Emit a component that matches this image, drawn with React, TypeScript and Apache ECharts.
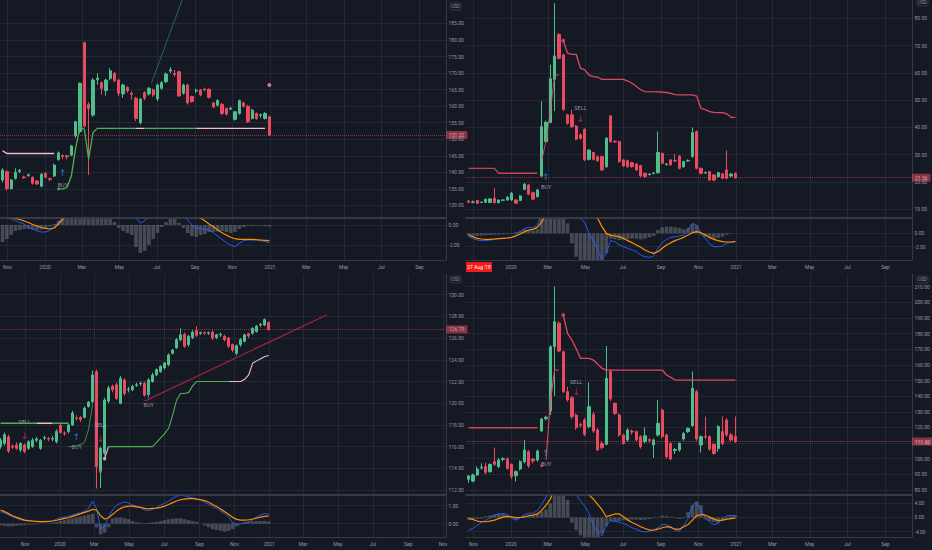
import React, { useEffect, useRef } from 'react';
import * as echarts from 'echarts';

const DAY = 86400000;
const toT = (s: string) => Date.parse(s + 'T00:00:00Z');
const weekly = (start: string, n: number) => {
  const t0 = toT(start);
  const out: number[] = [];
  for (let i = 0; i < n; i++) out.push(t0 + i * 7 * DAY);
  return out;
};

const MONTHS = ['Jan', 'Feb', 'Mar', 'Apr', 'May', 'Jun', 'Jul', 'Aug', 'Sep', 'Oct', 'Nov', 'Dec'];
const MONTH_TICKS = ['2019-11-01', '2020-01-01', '2020-03-01', '2020-05-01', '2020-07-01', '2020-09-01', '2020-11-01',
  '2021-01-01', '2021-03-01', '2021-05-01', '2021-07-01', '2021-09-01', '2021-11-01'].map(toT);
// top-right: the first "Nov" label is hidden under the red date box in the reference
const TR_MONTH_LABELS = MONTH_TICKS.slice(1);

// ---------------- TOP LEFT ----------------
const TL_DATES = weekly('2019-10-24', 63);
const TL_OPEN = [137.7, 140.2, 135.1, 138.2, 140.3, 138.6, 139.0, 138.5, 137.4, 135.8,
  139.7, 138.1, 138.9, 143.9, 145.1, 145.0, 145.2, 151.0, 152.3, 179.2,
  160.6, 157.3, 168.0, 167.1, 164.7, 168.4, 169.9, 167.9, 163.7, 165.7,
  163.9, 162.4, 155.0, 164.1, 163.7, 164.9, 162.2, 165.4, 167.4, 170.6,
  169.9, 170.4, 163.9, 166.4, 162.9, 164.6, 164.9, 165.2, 165.1, 161.0,
  160.3, 160.6, 159.3, 159.1, 156.0, 157.8, 161.0, 160.0, 156.3, 157.8,
  157.2, 156.3, 156.8];
const TL_CLOSE = [140.7, 135.1, 137.7, 140.0, 140.6, 138.4, 139.3, 136.7, 136.5, 139.4,
  138.5, 137.9, 142.2, 145.9, 144.8, 144.7, 148.0, 155.3, 166.9, 154.0,
  159.3, 167.9, 168.5, 165.4, 167.9, 170.7, 167.7, 163.9, 166.4, 164.7,
  163.6, 156.3, 162.1, 162.4, 165.4, 163.4, 166.4, 167.1, 169.7, 171.0,
  169.6, 163.1, 166.4, 161.0, 161.4, 164.8, 163.4, 165.0, 162.7, 159.8,
  161.7, 157.8, 157.6, 159.4, 158.3, 161.7, 160.0, 155.3, 158.8, 156.3,
  157.4, 157.8, 151.32];
const TL_LOW = [137.0, 134.6, 134.8, 137.8, 139.8, 138.0, 138.7, 136.3, 136.2, 135.5,
  138.2, 137.3, 138.6, 143.5, 144.0, 143.9, 144.9, 150.5, 151.8, 153.5,
  139.2, 156.8, 166.5, 163.5, 163.2, 167.8, 167.2, 163.0, 162.5, 164.0,
  162.0, 155.5, 154.5, 161.8, 163.2, 162.8, 161.5, 165.0, 167.0, 170.0,
  169.0, 162.8, 163.5, 160.5, 161.0, 164.0, 163.0, 164.5, 162.3, 159.4,
  159.9, 157.3, 157.2, 158.8, 155.6, 157.4, 159.6, 154.9, 156.0, 155.9,
  156.5, 156.0, 151.0];
const TL_HIGH = [141.2, 140.6, 138.0, 141.2, 141.0, 139.0, 139.6, 138.8, 137.5, 139.8,
  140.0, 138.4, 142.6, 146.3, 145.4, 145.3, 148.3, 155.6, 167.2, 179.5,
  161.2, 168.5, 170.0, 167.5, 168.3, 171.5, 170.3, 168.2, 166.8, 166.0,
  164.5, 162.8, 162.5, 164.5, 165.8, 165.3, 166.8, 167.6, 170.2, 171.8,
  171.0, 170.8, 166.8, 166.8, 163.2, 165.3, 165.2, 165.6, 165.4, 161.3,
  162.1, 160.9, 159.6, 159.7, 158.6, 162.0, 161.3, 160.4, 159.2, 158.1,
  157.8, 158.2, 157.1];
const TL_MACD = [1.0, 0.8, 0.6, 0.43, 0.25, 0.08, -0.2, -0.4, -0.6, -0.7,
  -0.7, -0.55, -0.17, 0.3, 0.8, 1.3, 2.0, 3.0, 4.5, 5.0,
  4.8, 4.9, 5.0, 4.8, 4.7, 4.6, 4.3, 3.8, 3.4, 3.0,
  2.5, 0.7, 0.2, 0.4, 0.9, 1.2, 1.6, 2.0, 2.4, 2.7,
  2.8, 2.4, 1.0, 0.5, 0.0, -0.27, -0.33, -0.43, -0.5, -0.77,
  -1.1, -1.43, -1.77, -2.0, -2.17, -1.83, -1.57, -1.5, -1.5, -1.5,
  -1.57, -1.67, -1.77];
const TL_SIGNAL = [1.2, 1.0, 0.8, 0.65, 0.55, 0.4, 0.25, 0.05, -0.1, -0.25,
  -0.33, -0.4, -0.3, 0.1, 0.6, 0.9, 1.2, 1.6, 2.1, 2.7,
  3.1, 3.5, 3.8, 4.0, 4.1, 4.2, 4.2, 4.1, 4.0, 3.8,
  3.5, 3.1, 2.7, 2.4, 2.1, 1.9, 1.8, 1.8, 1.9, 2.0,
  2.1, 2.2, 2.1, 1.7, 1.4, 1.05, 0.67, 0.43, 0.1, -0.17,
  -0.5, -0.77, -1.0, -1.23, -1.37, -1.43, -1.43, -1.43, -1.43, -1.47,
  -1.5, -1.53, -1.57];
const TL_HIST = [-1.7, -1.4, -1.0, -0.6, -0.5, -0.4, -0.4, -0.45, -0.5, -0.45,
  -0.35, -0.15, 0.1, 0.4, 0.8, 1.0, 1.2, 1.4, 1.5, 1.5,
  1.4, 1.3, 1.2, 1.0, 0.8, 0.6, 0.3, -0.3, -0.6, -0.8,
  -1.0, -2.2, -2.8, -2.6, -2.0, -1.4, -0.8, -0.2, 0.3, 0.6,
  0.6, 0.2, -0.3, -0.8, -1.1, -1.2, -1.0, -0.9, -0.7, -0.7,
  -0.65, -0.6, -0.7, -0.8, -0.7, -0.4, -0.2, -0.1, -0.1, -0.05,
  -0.05, -0.1, -0.15];
const TL_STOP_PTS = [[13, 135.0], [14, 135.0], [15, 135.5], [16, 139.0], [17, 147.5], [18, 153.8], [19, 153.0],
  [20, 144.0], [21, 152.0], [22, 153.3], [31, 153.3], [33, 153.3], [45, 153.3], [61, 153.3]];
const TL_PREV_PTS = [[0, 146.5], [1, 145.7], [12, 145.7]];
const TL_TREND = [['2020-06-22', 166.9], ['2020-08-20', 196.6]];

// ---------------- TOP RIGHT ----------------
const TR_DATES = weekly('2019-10-24', 63);
const TR_OPEN = [13.0, 12.6, 13.2, 12.5, 12.6, 12.5, 14.0, 12.4, 13.3, 13.4,
  13.4, 13.4, 13.2, 17.3, 18.9, 16.1, 14.6, 22.2, 34.8, 41.8,
  57.6, 74.1, 66.6, 44.6, 44.6, 40.5, 37.3, 39.3, 28.3, 30.8,
  29.3, 29.3, 25.6, 44.2, 34.9, 34.8, 28.1, 27.8, 27.1, 26.6,
  26.0, 23.2, 22.7, 23.1, 23.4, 30.5, 26.4, 28.1, 27.9, 29.5,
  25.6, 27.7, 29.3, 38.5, 25.0, 23.3, 23.8, 22.6, 22.0, 23.0,
  24.4, 22.2, 23.2];
const TR_CLOSE = [12.6, 12.7, 12.2, 12.6, 13.7, 13.8, 12.4, 13.4, 13.4, 14.4,
  15.9, 12.2, 14.9, 19.2, 15.5, 13.7, 17.1, 40.3, 41.9, 57.8,
  66.2, 65.3, 46.6, 41.5, 40.3, 35.7, 36.0, 28.1, 31.7, 28.3,
  27.8, 24.4, 36.0, 34.8, 34.7, 27.5, 25.9, 25.6, 25.6, 24.4,
  22.2, 22.0, 22.9, 23.3, 30.8, 26.9, 26.6, 26.3, 27.7, 25.0,
  27.5, 27.9, 38.1, 25.0, 23.2, 23.5, 20.7, 20.7, 23.4, 21.4,
  21.4, 22.9, 21.56];
const TR_LOW = [12.2, 12.2, 12.0, 12.3, 12.4, 12.3, 12.2, 12.2, 13.0, 13.1,
  13.1, 12.0, 13.0, 17.0, 15.2, 13.4, 14.3, 21.8, 34.5, 41.5,
  46.0, 65.0, 46.0, 41.0, 39.8, 35.3, 35.5, 27.7, 27.9, 27.9,
  27.4, 24.0, 25.2, 34.4, 34.3, 27.1, 25.5, 25.2, 25.2, 24.0,
  21.8, 21.6, 22.4, 22.8, 23.0, 26.5, 26.0, 25.9, 27.3, 24.6,
  25.2, 27.3, 28.9, 24.6, 22.8, 23.0, 20.3, 20.3, 21.6, 21.0,
  21.0, 21.8, 21.2];
const TR_HIGH = [13.4, 13.2, 13.4, 12.9, 13.9, 14.1, 17.7, 13.6, 13.7, 14.8,
  16.3, 13.7, 15.2, 19.6, 19.3, 16.5, 17.5, 49.5, 42.5, 63.0,
  85.5, 74.5, 67.0, 45.0, 46.5, 40.9, 37.8, 39.7, 32.0, 31.1,
  29.7, 29.6, 36.5, 44.6, 35.2, 35.1, 28.4, 28.1, 27.4, 26.9,
  26.3, 23.5, 23.2, 23.6, 38.5, 30.8, 26.9, 28.4, 30.3, 29.8,
  27.8, 28.3, 40.0, 38.9, 25.3, 23.8, 24.1, 22.9, 23.7, 23.3,
  31.5, 23.2, 23.5];
const TR_MACD = [-0.5, -0.75, -1.0, -1.1, -1.1, -1.0, -0.9, -0.8, -0.75, -0.7,
  -0.6, -0.25, 0.25, 0.75, 0.9, 0.8, 1.25, 3.0, 5.0, 8.0,
  11.0, 13.0, 12.0, 10.0, 8.0, 6.0, 2.25, 1.6, 0.0, -1.1,
  -2.5, -3.9, -3.0, -1.1, -1.25, -1.75, -2.0, -2.25, -2.5, -2.75,
  -3.25, -3.5, -3.6, -3.4, -2.25, -1.4, -0.9, -0.6, -0.5, -0.4,
  -0.25, 0.5, 1.5, 1.25, 0.0, -0.75, -1.6, -2.0, -2.0, -1.9,
  -1.5, -1.35, -1.25];
const TR_SIGNAL = [-0.25, -0.5, -0.75, -0.85, -0.9, -0.9, -0.85, -0.8, -0.75, -0.7,
  -0.6, -0.4, -0.1, 0.25, 0.5, 0.6, 0.9, 1.75, 2.8, 4.5,
  6.5, 8.5, 9.5, 9.8, 9.5, 8.8, 7.5, 6.0, 4.5, 3.0,
  2.25, 1.0, 0.0, -0.3, -0.4, -0.5, -0.75, -1.1, -1.4, -1.75,
  -2.1, -2.5, -2.8, -3.0, -2.75, -2.25, -1.75, -1.4, -1.1, -0.85,
  -0.6, -0.25, 0.1, 0.25, 0.1, -0.25, -0.6, -0.9, -1.1, -1.25,
  -1.3, -1.3, -1.25];
const TR_HIST = [-0.3, -0.35, -0.4, -0.35, -0.3, -0.25, -0.2, -0.2, -0.15, -0.1,
  -0.1, 0.2, 0.4, 0.6, 0.5, 0.4, 0.6, 2.5, 3.5, 4.5,
  5.0, 5.0, 3.5, 1.5, -1.5, -3.5, -4.5, -5.0, -5.0, -5.0,
  -5.0, -4.5, -3.0, -0.8, -0.9, -1.0, -1.0, -0.9, -0.8, -0.8,
  -0.9, -0.8, -0.6, -0.4, 0.5, 0.9, 1.0, 1.0, 0.9, 0.8,
  0.6, 0.8, 1.4, 1.2, -0.2, -0.5, -0.8, -0.8, -0.7, -0.5,
  -0.2, -0.05, 0.0];
const TR_STOP_A = [[0, 25.0], [6, 25.0], [7, 23.2], [16, 23.2]];
const TR_STOP_B = [[17, 28.0], [18, 35.0], [19, 46.0], [20, 59.2], [21, 59.2]];
const TR_STOP_C = [[22, 71.8], [23, 67.2], [24, 66.8], [25, 66.8], [26, 61.7], [27, 61.1], [28, 59.2], [29, 58.6],
  [30, 58.4], [31, 57.6], [36, 57.6], [37, 57.0], [38, 56.2], [39, 55.0], [40, 53.8], [41, 53.1], [44, 53.0],
  [46, 52.8], [47, 52.5], [48, 52.0], [49, 51.9], [52, 51.9], [53, 51.5], [54, 47.0], [55, 46.5], [56, 45.8],
  [57, 45.5], [58, 45.4], [59, 45.4], [60, 45.0], [61, 43.7], [62, 43.7]];

// ---------------- BOTTOM LEFT ----------------
const BL_DATES = weekly('2019-09-19', 68);
const BL_OPEN = [116.0, 116.3, 116.9, 116.05, 116.15, 115.7, 116.15, 115.85, 116.0, 116.6,
  115.85, 116.8, 116.75, 116.7, 116.45, 117.95, 117.25, 117.4, 118.0, 118.65,
  118.7, 118.7, 119.7, 120.15, 122.9, 113.7, 115.4, 120.2, 121.55, 121.7,
  120.0, 122.15, 121.25, 121.25, 121.65, 121.8, 121.85, 120.8, 122.0, 122.6,
  122.9, 123.25, 123.55, 124.6, 125.1, 125.85, 126.35, 125.4, 126.05, 126.7,
  126.45, 126.5, 126.45, 126.55, 126.05, 126.3, 126.15, 126.0, 125.4, 124.6,
  125.4, 125.7, 126.4, 126.45, 126.6, 127.2, 127.2, 127.45];
const BL_CLOSE = [116.6, 117.1, 115.6, 115.95, 115.85, 116.3, 115.55, 116.45, 116.6, 116.7,
  116.6, 116.85, 116.7, 116.75, 117.4, 117.3, 117.2, 118.0, 119.1, 118.6,
  118.5, 119.55, 120.1, 122.6, 114.15, 115.85, 120.3, 121.4, 121.25, 120.45,
  122.3, 120.9, 121.3, 121.55, 121.7, 121.85, 120.75, 122.15, 122.6, 123.1,
  123.4, 123.7, 124.45, 124.9, 125.85, 126.3, 125.25, 126.15, 126.55, 126.25,
  126.5, 126.45, 126.5, 126.0, 126.3, 126.35, 125.85, 125.25, 124.9, 125.3,
  125.85, 126.3, 126.2, 126.9, 127.1, 127.25, 127.7, 126.79];
const BL_LOW = [115.8, 116.1, 115.4, 115.8, 115.7, 115.5, 115.4, 115.7, 115.9, 116.4,
  115.7, 116.6, 116.5, 116.5, 116.3, 117.2, 117.0, 117.2, 117.9, 118.4,
  118.3, 118.6, 119.6, 120.0, 112.15, 112.2, 115.2, 120.0, 121.0, 120.3,
  119.9, 120.7, 121.0, 121.1, 121.5, 121.6, 120.6, 120.6, 121.9, 122.5,
  122.8, 123.1, 123.4, 124.5, 125.0, 125.7, 125.1, 125.2, 125.9, 126.1,
  126.3, 126.3, 126.3, 125.8, 125.9, 126.1, 125.7, 125.1, 124.7, 124.4,
  125.2, 125.6, 126.0, 126.3, 126.5, 127.0, 127.1, 126.7];
const BL_HIGH = [116.8, 117.3, 117.1, 116.2, 116.4, 116.4, 116.3, 116.6, 116.8, 116.9,
  116.7, 117.0, 116.9, 117.0, 117.6, 118.1, 117.4, 118.1, 119.3, 118.9,
  118.8, 119.7, 120.2, 123.0, 123.1, 116.0, 120.5, 121.6, 121.7, 121.9,
  122.5, 122.3, 121.5, 121.7, 121.9, 122.0, 122.0, 122.3, 122.8, 123.2,
  123.5, 123.8, 124.6, 125.0, 126.0, 126.9, 126.5, 126.3, 126.7, 127.1,
  126.6, 126.6, 126.6, 126.7, 126.4, 126.5, 126.3, 126.1, 125.5, 125.4,
  126.0, 126.4, 126.5, 127.0, 127.2, 127.4, 127.8, 127.5];
const BL_MACD = [0.67, 0.6, 0.48, 0.39, 0.3, 0.22, 0.17, 0.15, 0.13, 0.11,
  0.11, 0.11, 0.11, 0.15, 0.26, 0.33, 0.37, 0.41, 0.48, 0.56,
  0.59, 0.7, 0.85, 1.26, 0.85, -0.3, -0.17, 0.39, 0.76, 1.04,
  1.13, 1.22, 1.15, 1.04, 0.98, 0.89, 0.76, 0.74, 0.8, 0.89,
  1.04, 1.13, 1.26, 1.41, 1.52, 1.59, 1.56, 1.48, 1.44, 1.37,
  1.3, 1.19, 1.07, 0.96, 0.85, 0.7, 0.56, 0.39, 0.04, -0.04,
  0.0, 0.04, 0.11, 0.22, 0.37, 0.48, 0.56, 0.54];
const BL_SIGNAL = [0.76, 0.67, 0.56, 0.44, 0.35, 0.28, 0.2, 0.17, 0.15, 0.13,
  0.11, 0.11, 0.13, 0.15, 0.19, 0.24, 0.3, 0.33, 0.41, 0.48,
  0.56, 0.63, 0.7, 0.8, 0.76, 0.44, 0.26, 0.33, 0.52, 0.7,
  0.85, 0.94, 0.98, 0.98, 0.94, 0.91, 0.85, 0.83, 0.85, 0.87,
  0.91, 0.98, 1.07, 1.17, 1.26, 1.33, 1.37, 1.39, 1.39, 1.37,
  1.33, 1.28, 1.19, 1.07, 0.96, 0.81, 0.67, 0.52, 0.35, 0.24,
  0.2, 0.2, 0.22, 0.26, 0.31, 0.37, 0.41, 0.43];
const BL_HIST = [-0.1, -0.12, -0.15, -0.15, -0.12, -0.1, -0.08, -0.06, -0.05, -0.03,
  0.0, 0.0, 0.02, 0.05, 0.1, 0.15, 0.2, 0.25, 0.3, 0.35,
  0.4, 0.45, 0.5, 0.55, -0.2, -0.6, -0.5, -0.2, 0.3, 0.35,
  0.35, 0.3, 0.25, 0.15, 0.08, 0.05, 0.03, 0.05, 0.08, 0.1,
  0.15, 0.2, 0.25, 0.28, 0.3, 0.3, 0.25, 0.2, 0.15, 0.1,
  0.0, -0.1, -0.2, -0.3, -0.35, -0.4, -0.45, -0.4, -0.3, -0.15,
  0.0, 0.05, 0.1, 0.12, 0.15, 0.15, 0.15, 0.12];
const BL_SUPPORT_PTS = [[0, 118.15], [9, 118.15], [13, 118.15], [17, 118.15]];
const BL_RISE_PTS = [[17, 116.0], [18, 116.0], [19, 116.1], [20, 116.2], [21, 116.4], [22, 117.6], [23, 119.9]];
const BL_STOP_PTS = [[26, 114.9], [27, 116.0], [38, 116.0], [39, 116.4], [40, 116.8], [41, 117.2], [42, 117.7],
  [43, 118.9], [44, 120.3], [45, 120.9], [46, 120.9], [47, 121.0], [48, 121.6], [49, 122.0], [57, 122.0],
  [60, 122.0], [61, 122.2], [62, 122.6], [63, 123.7], [64, 123.9], [65, 124.1], [66, 124.3], [67, 124.4]];
const BL_TREND = [['2020-05-28', 120.2], ['2021-04-12', 128.15]];

// ---------------- BOTTOM RIGHT ----------------
const BR_DATES = weekly('2019-10-24', 63);
const BR_OPEN = [86.9, 85.7, 89.6, 94.1, 94.9, 91.7, 98.1, 94.9, 99.6, 99.8,
  96.4, 89.2, 93.4, 98.1, 104.5, 99.8, 99.2, 117.7, 125.6, 130.5,
  171.6, 186.6, 168.4, 142.9, 139.0, 127.9, 121.8, 124.7, 120.5, 128.4,
  118.4, 109.8, 109.2, 155.7, 135.4, 127.9, 115.2, 112.0, 117.6, 117.3,
  114.1, 110.9, 112.2, 108.8, 115.2, 131.1, 115.2, 109.8, 105.3, 105.6,
  112.6, 117.3, 121.1, 142.9, 108.8, 114.3, 114.1, 109.2, 106.6, 117.3,
  124.7, 115.2, 114.1];
const BR_CLOSE = [89.0, 89.6, 93.4, 94.5, 91.3, 96.4, 96.4, 99.2, 100.0, 93.8,
  88.5, 91.7, 98.1, 105.6, 95.5, 98.5, 104.9, 125.4, 126.5, 171.6,
  187.6, 168.9, 142.9, 137.5, 126.9, 119.8, 121.4, 115.6, 133.3, 117.7,
  105.6, 107.1, 151.4, 138.2, 129.0, 115.2, 109.8, 118.4, 117.1, 112.0,
  107.7, 114.7, 111.8, 112.0, 122.6, 114.1, 101.3, 99.8, 105.9, 109.8,
  116.2, 119.4, 145.0, 112.6, 114.1, 113.9, 106.2, 103.4, 120.5, 109.8,
  115.2, 112.0, 111.0];
const BR_LOW = [84.5, 85.0, 89.0, 93.0, 90.0, 91.0, 95.5, 94.0, 98.5, 93.0,
  87.0, 85.5, 92.5, 97.0, 94.0, 97.0, 98.0, 117.0, 124.5, 128.0,
  140.0, 168.0, 142.0, 136.5, 125.5, 118.5, 120.0, 114.5, 119.5, 116.5,
  105.0, 106.0, 108.5, 137.0, 128.0, 114.0, 109.0, 111.0, 115.5, 111.0,
  106.5, 110.0, 110.5, 100.5, 114.0, 113.0, 100.0, 99.0, 103.0, 104.5,
  111.5, 116.5, 120.5, 111.5, 104.0, 112.5, 105.0, 102.5, 104.5, 108.5,
  114.0, 111.0, 110.0];
const BR_HIGH = [89.5, 90.5, 95.0, 97.0, 97.5, 97.0, 107.0, 100.5, 101.0, 101.0,
  97.0, 92.5, 99.0, 112.0, 105.5, 100.5, 106.0, 126.0, 127.5, 172.5,
  210.0, 188.0, 169.0, 146.0, 140.0, 129.0, 123.0, 126.0, 148.8, 130.0,
  119.5, 111.0, 172.0, 157.0, 136.0, 129.0, 116.0, 119.5, 118.5, 118.0,
  115.0, 120.0, 113.0, 113.0, 137.5, 132.0, 116.0, 110.5, 107.0, 110.5,
  117.0, 120.0, 155.7, 144.0, 115.0, 126.9, 115.0, 110.0, 121.5, 127.0,
  126.0, 116.5, 127.0];
const BR_MACD = [-3.6, -3.1, -2.2, -1.4, -0.75, -0.1, 0.5, 1.0, 1.1, 0.85,
  -0.1, -0.75, -0.1, 0.85, 1.2, 1.2, 2.0, 3.7, 5.8, 9.0,
  13.0, 16.0, 17.0, 14.0, 10.0, 6.5, 4.6, 3.2, 1.1, -2.2,
  -4.2, -5.2, -2.0, -1.0, -1.0, -1.4, -1.7, -2.2, -2.9, -3.3,
  -3.9, -4.1, -3.9, -3.5, -2.9, -2.0, -2.0, -2.6, -3.6, -3.9,
  -2.2, -0.3, 3.5, 4.2, 2.1, -0.1, -1.2, -2.0, -1.7, -0.3,
  0.5, 0.6, 0.5];
const BR_SIGNAL = [-0.3, -0.55, -1.0, -1.2, -1.2, -1.0, -0.75, -0.3, 0.1, 0.3,
  0.2, 0.0, 0.0, 0.2, 0.5, 0.65, 1.0, 2.0, 3.5, 5.2,
  8.0, 10.0, 12.0, 13.0, 13.0, 12.5, 11.5, 9.5, 6.3, 5.2,
  3.7, 2.2, 0.2, 0.6, 1.0, 1.0, 0.2, -0.75, -1.4, -2.0,
  -2.6, -3.1, -3.5, -3.6, -3.3, -2.9, -2.6, -2.8, -3.3, -3.3,
  -2.6, -2.0, -0.75, 0.5, 0.85, 0.65, 0.1, -0.45, -0.85, -0.75,
  -0.45, -0.3, -0.2];
const BR_HIST = [-0.6, -0.5, -0.4, -0.3, 0.3, 0.6, 0.9, 1.1, 1.0, 0.6,
  -0.2, -0.5, -0.1, 0.5, 0.6, 0.6, 1.0, 1.7, 2.3, 4.0,
  6.0, 7.0, 6.5, 5.0, -1.5, -3.5, -5.0, -6.0, -6.0, -6.0,
  -6.0, -4.5, -2.5, -1.0, -1.2, -1.0, -0.8, -0.7, -0.6, -0.6,
  -0.7, -0.6, -0.4, -0.2, 0.1, 0.5, 0.4, 0.2, -0.2, -0.4,
  -0.2, 1.5, 3.5, 4.5, 3.5, -0.5, -1.0, -1.3, -1.5, -1.0,
  -0.3, 0.4, 0.6];
const BR_FLAT_PTS = [[0, 119.8], [16, 119.8]];
const BR_RISE_PTS = [[18, 99.2], [19, 136.5], [20, 156.7], [21, 156.7]];
const BR_STOP_PTS = [[22, 191.9], [23, 180.2], [24, 175.9], [25, 170.4], [26, 164.2], [28, 164.2], [29, 163.1],
  [30, 160.5], [31, 157.8], [32, 156.7], [45, 156.7], [46, 153.5], [47, 152.0], [48, 150.3], [62, 150.3]];

// tick labels
const TL_Y_TICKS = [130, 135, 140, 145, 150, 155, 160, 165, 170, 175, 180, 185];
const TR_Y_TICKS = [10, 20, 30, 40, 50, 60, 70, 80];
const BL_Y_TICKS = [112, 114, 116, 118, 120, 122, 124, 126, 128, 130];
const BR_Y_TICKS = [80, 90, 100, 110, 120, 130, 140, 150, 160, 170, 180, 190, 200, 210];
const TL_M_TICKS = [0, -2];
const TR_M_TICKS = [0, -2];
const BL_M_TICKS = [1, 0];
const BR_M_TICKS = [4, 0, -4];

// ---------------- styles ----------------
const BG = '#151924';
const GRID_C = '#242835';
const AXIS_C = '#363a45';
const LABEL_C = '#9598a1';
const UP = '#50bd8d';
const DOWN = '#ea4a60';
const GREEN = '#4caf50';
const PINK = '#f4b8cb';
const RED = '#e0475f';
const BLUE_ARROW = '#2196f3';
const RED_ARROW = '#e91e63';
const TXT = '#b2b5be';
const FONT = 'Roboto, "DejaVu Sans", sans-serif';

type Seg = [number, number, string];
type Overlay = { pts: number[][]; segs: Seg[]; width: number };

const arrowUp = (i: number, v: number) => ({ i, v, text: '↑', color: BLUE_ARROW, size: 9 });
const arrowDn = (i: number, v: number) => ({ i, v, text: '↓', color: RED_ARROW, size: 9 });
const word = (i: number, v: number, text: string) => ({ i, v, text, color: TXT, size: 5.5 });

const PANELS: any[] = [
  {
    left: 0, top: 0, width: 446, mainH: 218, macdTop: 219, macdH: 41,
    xMin: toT('2020-01-01') - 73.2 * DAY, xMax: toT('2021-01-01') + 286.3 * DAY, xLabels: MONTH_TICKS,
    yMin: 126.2, yMax: 192.1, yTicks: TL_Y_TICKS, mMin: -3.5, mMax: 0.6, mTicks: TL_M_TICKS,
    dates: TL_DATES, o: TL_OPEN, c: TL_CLOSE, l: TL_LOW, h: TL_HIGH,
    macd: TL_MACD, sig: TL_SIGNAL, hist: TL_HIST, barW: 2.8,
    overlays: [
      { pts: TL_PREV_PTS, segs: [[0, 12, PINK]], width: 1.4 },
      { pts: TL_STOP_PTS, segs: [[13, 31, GREEN], [31, 33, PINK], [33, 45, GREEN], [45, 61, PINK]], width: 1.3 },
    ],
    trend: { pts: TL_TREND, color: '#1f7d60', width: 0.8 },
    dots: [{ i: 62, v: 166.4, color: '#f48fb1', size: 4 }, { i: 13, v: 135.0, color: GREEN, size: 3 }],
    anns: [arrowUp(14, 139.7), word(14, 136.3, 'BUY')],
    last: 151.32, lastLabel: '151.32',
  },
  {
    left: 466, top: 0, width: 446, mainH: 218, macdTop: 219, macdH: 41,
    xMin: toT('2020-01-01') - 73.2 * DAY, xMax: toT('2021-01-01') + 286.3 * DAY, xLabels: TR_MONTH_LABELS,
    yMin: 6.8, yMax: 86.7, yTicks: TR_Y_TICKS, mMin: -4.0, mMax: 2.15, mTicks: TR_M_TICKS,
    dates: TR_DATES, o: TR_OPEN, c: TR_CLOSE, l: TR_LOW, h: TR_HIGH,
    macd: TR_MACD, sig: TR_SIGNAL, hist: TR_HIST, barW: 2.8,
    overlays: [
      { pts: TR_STOP_A, segs: [[0, 16, '#c9404f']], width: 1.3 },
      { pts: TR_STOP_B, segs: [[17, 21, '#c45a69']], width: 0.9 },
      { pts: TR_STOP_C, segs: [[22, 62, RED]], width: 1.3 },
    ],
    dots: [{ i: 22, v: 71.8, color: RED, size: 4 }],
    anns: [arrowUp(18, 21.7), word(18, 18.1, 'BUY'), word(26, 47.0, 'SELL'), arrowDn(26, 43.0)],
    last: 21.56, lastLabel: '21.56',
  },
  {
    left: 0, top: 274, width: 446, mainH: 221, macdTop: 496, macdH: 41,
    xMin: toT('2020-01-01') - 104.9 * DAY, xMax: toT('2021-01-01') + 309 * DAY, xLabels: MONTH_TICKS,
    yMin: 111.55, yMax: 131.9, yTicks: BL_Y_TICKS, mMin: -0.74, mMax: 1.54, mTicks: BL_M_TICKS,
    dates: BL_DATES, o: BL_OPEN, c: BL_CLOSE, l: BL_LOW, h: BL_HIGH,
    macd: BL_MACD, sig: BL_SIGNAL, hist: BL_HIST, barW: 2.6,
    overlays: [
      { pts: BL_SUPPORT_PTS, segs: [[0, 9, GREEN], [9, 13, PINK], [13, 17, GREEN]], width: 1.4 },
      { pts: BL_RISE_PTS, segs: [[17, 23, '#3f9b48']], width: 0.9 },
      { pts: BL_STOP_PTS, segs: [[26, 27, PINK], [27, 57, GREEN], [57, 67, PINK]], width: 1.1 },
    ],
    trend: { pts: BL_TREND, color: '#9b2638', width: 1.3 },
    dots: [{ i: 26, v: 114.9, color: '#f8bbd0', size: 3.5 }, { i: 25, v: 113.7, color: RED, size: 3 }],
    anns: [word(6, 118.3, 'SELL'), arrowDn(6, 117.0), arrowUp(19, 116.9), word(19, 116.0, 'BUY'),
      word(25, 118.0, 'SELL'), arrowDn(25, 116.7), arrowUp(37, 120.8), word(37, 119.8, 'BUY')],
    last: 126.79, lastLabel: '126.79',
  },
  {
    left: 466, top: 274, width: 446, mainH: 221, macdTop: 496, macdH: 41,
    xMin: toT('2020-01-01') - 73.2 * DAY, xMax: toT('2021-01-01') + 286.3 * DAY, xLabels: MONTH_TICKS,
    yMin: 76.8, yMax: 218.1, yTicks: BR_Y_TICKS, mMin: -5.5, mMax: 6.06, mTicks: BR_M_TICKS,
    dates: BR_DATES, o: BR_OPEN, c: BR_CLOSE, l: BR_LOW, h: BR_HIGH,
    macd: BR_MACD, sig: BR_SIGNAL, hist: BR_HIST, barW: 2.8,
    overlays: [
      { pts: BR_FLAT_PTS, segs: [[0, 16, '#c94657']], width: 1.4 },
      { pts: BR_RISE_PTS, segs: [[18, 21, RED]], width: 1.1 },
      { pts: BR_STOP_PTS, segs: [[22, 62, RED]], width: 1.3 },
    ],
    dots: [{ i: 22, v: 191.9, color: RED, size: 4 }, { i: 17, v: 95.5, color: RED, size: 3 }],
    anns: [arrowUp(18, 103.4), word(18, 96.4, 'BUY'), word(25, 149.3, 'SELL'), arrowDn(25, 142.4)],
    last: 111.0, lastLabel: '111.00',
  },
];

function timeAxis(gridIndex: number, p: any, labels: boolean) {
  return {
    type: 'value', gridIndex, min: p.xMin, max: p.xMax, scale: true,
    axisLine: { show: true, onZero: false, lineStyle: { color: labels ? AXIS_C : '#434651', width: labels ? 1 : 1.6 } },
    axisTick: { show: false, customValues: MONTH_TICKS },
    axisLabel: {
      show: labels, customValues: p.xLabels, color: LABEL_C, fontSize: 5, margin: 4, fontFamily: FONT,
      formatter: (v: number) => {
        const dt = new Date(v);
        return dt.getUTCMonth() === 0 ? String(dt.getUTCFullYear()) : MONTHS[dt.getUTCMonth()];
      },
    },
    splitLine: { show: true, lineStyle: { color: GRID_C, width: 1 } },
  };
}

function valueAxis(gridIndex: number, min: number, max: number, ticks: number[]) {
  return {
    type: 'value', gridIndex, position: 'right', min, max, scale: true,
    axisLine: { show: true, onZero: false, lineStyle: { color: AXIS_C } },
    axisTick: { show: false, customValues: ticks },
    axisLabel: {
      customValues: ticks, color: LABEL_C, fontSize: 5, margin: 2.5, fontFamily: FONT,
      formatter: (v: number) => v.toFixed(2),
    },
    splitLine: { show: true, lineStyle: { color: GRID_C, width: 1 } },
  };
}

function buildOption() {
  const grid: any[] = [];
  const xAxis: any[] = [];
  const yAxis: any[] = [];
  const series: any[] = [];
  PANELS.forEach((p) => {
    const g = grid.length;
    grid.push({ left: p.left, top: p.top, width: p.width, height: p.mainH, containLabel: false, outerBoundsMode: 'none' });
    grid.push({ left: p.left, top: p.macdTop, width: p.width, height: p.macdH, containLabel: false, outerBoundsMode: 'none' });
    xAxis.push(timeAxis(g, p, false), timeAxis(g + 1, p, true));
    yAxis.push(valueAxis(g, p.yMin, p.yMax, p.yTicks), valueAxis(g + 1, p.mMin, p.mMax, p.mTicks));
    const mi = g;
    const si = g + 1;
    series.push({
      type: 'candlestick', xAxisIndex: mi, yAxisIndex: mi, barWidth: p.barW, silent: true,
      data: p.dates.map((t: number, i: number) => [t, p.o[i], p.c[i], p.l[i], p.h[i]]),
      itemStyle: { color: UP, color0: DOWN, borderColor: UP, borderColor0: DOWN, borderWidth: 1 },
      markLine: {
        silent: true, symbol: ['none', 'none'],
        lineStyle: { color: DOWN, type: 'dotted', width: 1, opacity: 0.55 },
        label: {
          show: true, position: 'end', formatter: p.lastLabel, color: '#ffffff', backgroundColor: DOWN,
          padding: [1.5, 3], fontSize: 5, distance: 0, fontFamily: FONT, borderRadius: 1,
        },
        data: [{ yAxis: p.last }],
      },
    });
    p.overlays.forEach((ov: Overlay) => {
      ov.segs.forEach(([a, b, color]) => {
        series.push({
          type: 'line', xAxisIndex: mi, yAxisIndex: mi, showSymbol: false, symbol: 'none', silent: true,
          lineStyle: { color, width: ov.width },
          data: ov.pts.filter((pt) => pt[0] >= a && pt[0] <= b).map((pt) => [p.dates[pt[0]], pt[1]]),
        });
      });
    });
    if (p.trend) {
      series.push({
        type: 'line', xAxisIndex: mi, yAxisIndex: mi, showSymbol: false, symbol: 'none', silent: true,
        lineStyle: { color: p.trend.color, width: p.trend.width },
        data: p.trend.pts.map((pt: any[]) => [toT(pt[0]), pt[1]]),
      });
    }
    series.push({
      type: 'scatter', xAxisIndex: mi, yAxisIndex: mi, silent: true,
      data: p.dots.map((dd: any) => ({ value: [p.dates[dd.i], dd.v], symbolSize: dd.size, itemStyle: { color: dd.color } })),
    });
    series.push({
      type: 'scatter', xAxisIndex: mi, yAxisIndex: mi, silent: true, symbol: 'circle', symbolSize: 1,
      itemStyle: { color: 'rgba(0,0,0,0)' },
      data: p.anns.map((an: any) => ({
        value: [p.dates[an.i], an.v],
        label: {
          show: true, position: 'inside', formatter: an.text, color: an.color, fontSize: an.size,
          fontFamily: an.text.length === 1 ? '"DejaVu Sans", sans-serif' : FONT,
        },
      })),
    });
    // MACD pane
    series.push({
      type: 'bar', xAxisIndex: si, yAxisIndex: si, barWidth: 3.6, silent: true,
      itemStyle: { color: 'rgba(120,123,134,0.5)' },
      data: p.dates.map((t: number, i: number) => [t, p.hist[i]]),
    });
    series.push({
      type: 'line', xAxisIndex: si, yAxisIndex: si, showSymbol: false, symbol: 'none', silent: true,
      lineStyle: { color: '#2962ff', width: 0.9 },
      data: p.dates.map((t: number, i: number) => [t, p.macd[i]]),
    });
    series.push({
      type: 'line', xAxisIndex: si, yAxisIndex: si, showSymbol: false, symbol: 'none', silent: true,
      lineStyle: { color: '#ff8f00', width: 1.2 },
      data: p.dates.map((t: number, i: number) => [t, p.sig[i]]),
    });
  });

  const usd = (x: number, y: number) => [
    { type: 'rect', shape: { x, y, width: 11, height: 7, r: 1.5 }, style: { fill: 'transparent', stroke: '#50535e', lineWidth: 0.6 } },
    { type: 'text', x: x + 5.5, y: y + 3.6, style: { text: 'USD', fill: LABEL_C, fontSize: 4.5, fontFamily: FONT, align: 'center', verticalAlign: 'middle' } },
  ];

  return {
    animation: false,
    backgroundColor: BG,
    grid, xAxis, yAxis, series,
    graphic: [
      ...usd(450, 3), ...usd(917, -1), ...usd(450, 276), ...usd(917, 276),
      { type: 'rect', shape: { x: 466, y: 262, width: 26, height: 10 }, style: { fill: '#f21c1c' } },
      { type: 'text', x: 479, y: 267.3, style: { text: "27 Aug '18", fill: '#ffffff', fontSize: 5, fontFamily: FONT, align: 'center', verticalAlign: 'middle' } },
    ],
  };
}

export default function App() {
  const ref = useRef<HTMLDivElement>(null);
  useEffect(() => {
    if (!ref.current) return;
    const chart = echarts.init(ref.current, null, { renderer: 'svg' });
    chart.setOption(buildOption() as any);
    return () => chart.dispose();
  }, []);
  return <div ref={ref} style={{ position: 'fixed', left: 0, top: 0, width: 932, height: 550, background: BG }} />;
}
